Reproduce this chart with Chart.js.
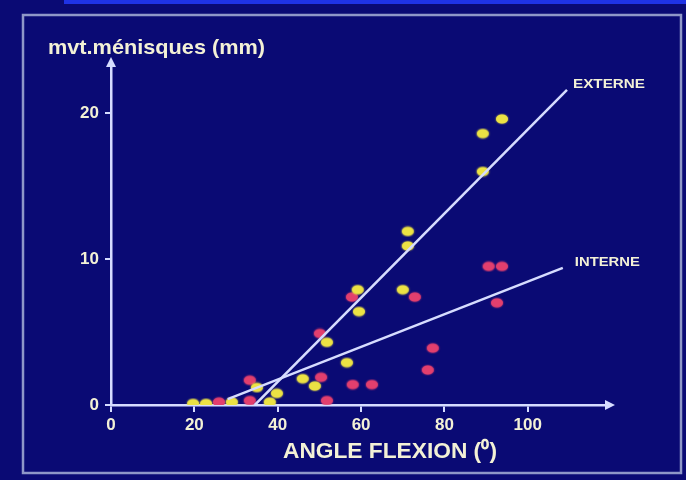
<!DOCTYPE html>
<html>
<head>
<meta charset="utf-8">
<script src="https://cdn.jsdelivr.net/npm/chart.js@4.4.1/dist/chart.umd.min.js"></script>
<style>
  html, body { margin: 0; padding: 0; background: #0a0a74; }
  #wrap { width: 686px; height: 480px; }
</style>
</head>
<body>
<div id="wrap"><canvas id="chart"></canvas></div>
<script>
// angle de flexion (deg) / mouvement des ménisques (mm)
const externeX = [19.7, 22.8, 29.0, 35.0, 38.1, 39.8, 46.0, 48.9, 51.8, 56.6, 59.2, 59.5, 70.0, 71.2, 71.2, 89.2, 89.2, 93.8];
const externeY = [0.1, 0.1, 0.2, 1.2, 0.2, 0.8, 1.8, 1.3, 4.3, 2.9, 7.9, 6.4, 7.9, 10.9, 11.9, 16.0, 18.6, 19.6];
const interneX = [25.9, 33.3, 33.3, 50.4, 50.1, 51.8, 57.8, 58.0, 62.6, 72.9, 77.2, 76.0, 90.6, 93.8, 92.6];
const interneY = [0.2, 1.7, 0.3, 1.9, 4.9, 0.3, 7.4, 1.4, 1.4, 7.4, 3.9, 2.4, 9.5, 9.5, 7.0];

// regression lines: [x, y] start and end
const externeLine = [[34.5, 0], [109.4, 21.6]];
const interneLine = [[28.0, 0.4], [108.4, 9.4]];

const xTicks = [0, 20, 40, 60, 80, 100];
const yTicks = [0, 10, 20];
const xMax = 119;
const yMax = 23.3;

const lineLabels = ['EXTERNE', 'INTERNE'];
const yTitle = 'mvt.ménisques (mm)';
const xTitle = 'ANGLE FLEXION (\u2070)';

const NAVY = '#0a0a74';
const AXIS = '#d6dcff';
const TEXT = '#f3f1d6';
const FONT = '"Liberation Sans", Arial, sans-serif';

function toPoints(xs, ys) {
    return xs.map((x, i) => ({ x: x, y: ys[i] }));
}

// oval dots like the slide
function makeDot(color) {
    const c = document.createElement('canvas');
    c.width = 16;
    c.height = 12;
    const ctx = c.getContext('2d');
    ctx.shadowColor = color;
    ctx.shadowBlur = 2;
    ctx.fillStyle = color;
    ctx.beginPath();
    ctx.ellipse(8, 6, 6, 4.5, 0, 0, Math.PI * 2);
    ctx.fill();
    return c;
}

function fitText(ctx, text, x, y, size, width, align) {
    ctx.save();
    ctx.font = 'bold ' + size + 'px ' + FONT;
    const w = ctx.measureText(text).width;
    const k = width / w;
    ctx.translate(x, y);
    ctx.scale(k, 1);
    ctx.textAlign = align;
    ctx.textBaseline = 'middle';
    ctx.fillText(text, 0, 0);
    ctx.restore();
}

const slidePlugin = {
    id: 'slide',
    beforeDraw(chart) {
        const ctx = chart.ctx;
        ctx.save();
        ctx.fillStyle = NAVY;
        ctx.fillRect(0, 0, chart.width, chart.height);
        ctx.fillStyle = '#1f33e6';
        ctx.fillRect(64, 0, chart.width - 64, 4);
        ctx.strokeStyle = '#8f97c8';
        ctx.lineWidth = 2.5;
        ctx.strokeRect(23, 15, 658, 458);
        ctx.restore();
    },
    afterDraw(chart) {
        const ctx = chart.ctx;
        const area = chart.chartArea;
        const xs = chart.scales.x;
        const ys = chart.scales.y;
        ctx.save();

        // axis arrows
        ctx.fillStyle = AXIS;
        ctx.beginPath();
        ctx.moveTo(area.right + 8, area.bottom);
        ctx.lineTo(area.right - 2, area.bottom - 5);
        ctx.lineTo(area.right - 2, area.bottom + 5);
        ctx.fill();
        ctx.beginPath();
        ctx.moveTo(area.left, area.top - 8);
        ctx.lineTo(area.left - 5, area.top + 2);
        ctx.lineTo(area.left + 5, area.top + 2);
        ctx.fill();

        ctx.fillStyle = TEXT;
        fitText(ctx, yTitle, 48, 48, 21, 217, 'left');
        fitText(ctx, xTitle, 390, 452, 22, 214, 'center');

        // labels at the end of each line
        const ends = [externeLine[1], interneLine[1]];
        const widths = [72, 65];
        const offs = [[6, -5], [12, -5]];
        ends.forEach((p, i) => {
            const px = xs.getPixelForValue(p[0]) + offs[i][0];
            const py = ys.getPixelForValue(p[1]) + offs[i][1];
            fitText(ctx, lineLabels[i], px, py, 13, widths[i], 'left');
        });
        ctx.restore();
    }
};

const tickFont = { family: FONT, size: 17, weight: 'bold' };

const config = {
    type: 'scatter',
    data: {
        datasets: [
            {
                label: 'externe',
                data: toPoints(externeX, externeY),
                pointStyle: makeDot('#ece244'),
                order: 2
            },
            {
                label: 'interne',
                data: toPoints(interneX, interneY),
                pointStyle: makeDot('#e23f6e'),
                order: 3
            },
            {
                type: 'line',
                label: 'droite externe',
                data: externeLine.map(p => ({ x: p[0], y: p[1] })),
                borderColor: AXIS,
                borderWidth: 2.5,
                pointRadius: 0,
                order: 1
            },
            {
                type: 'line',
                label: 'droite interne',
                data: interneLine.map(p => ({ x: p[0], y: p[1] })),
                borderColor: AXIS,
                borderWidth: 2.5,
                pointRadius: 0,
                order: 1
            }
        ]
    },
    options: {
        responsive: true,
        maintainAspectRatio: false,
        animation: false,
        layout: { padding: { left: 0, top: 65, right: 79, bottom: 0 } },
        plugins: {
            legend: { display: false },
            tooltip: { enabled: false }
        },
        scales: {
            x: {
                type: 'linear',
                min: 0,
                max: xMax,
                afterFit: s => { s.height = 75; },
                afterBuildTicks: s => { s.ticks = xTicks.map(v => ({ value: v })); },
                border: { color: AXIS, width: 2.5 },
                grid: { drawOnChartArea: false, color: AXIS, lineWidth: 2, tickLength: 7 },
                ticks: { color: TEXT, font: tickFont, padding: 3, maxRotation: 0 }
            },
            y: {
                type: 'linear',
                min: 0,
                max: yMax,
                afterFit: s => { s.width = 111; },
                afterBuildTicks: s => { s.ticks = yTicks.map(v => ({ value: v })); },
                border: { color: AXIS, width: 2.5 },
                grid: { drawOnChartArea: false, color: AXIS, lineWidth: 2, tickLength: 6 },
                ticks: { color: TEXT, font: tickFont, padding: 6 }
            }
        }
    },
    plugins: [slidePlugin]
};

new Chart(document.getElementById('chart'), config);
</script>
</body>
</html>
